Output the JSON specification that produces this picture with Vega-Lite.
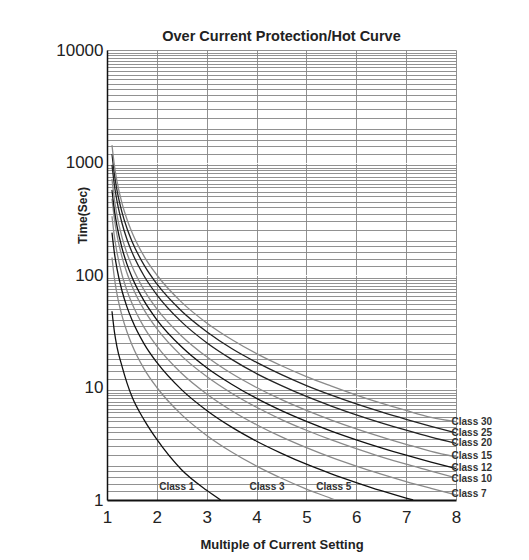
{
  "$schema": "https://vega.github.io/schema/vega-lite/v6.json",
  "width": 349,
  "height": 450,
  "autosize": "none",
  "padding": {"left": 107, "top": 50, "right": 73, "bottom": 60},
  "background": "white",
  "config": {
    "font": "Liberation Sans",
    "view": {"stroke": null}
  },
  "title": {
    "text": "Over Current Protection/Hot Curve",
    "fontSize": 14.5,
    "fontWeight": "bold",
    "color": "#222",
    "offset": -3,
    "anchor": "middle"
  },
  "datasets": {
    "curves": [
      {"c": "Class 1", "x": 1.1, "t": 47.6}, {"c": "Class 1", "x": 1.15, "t": 31}, {"c": "Class 1", "x": 1.2, "t": 23}, {"c": "Class 1", "x": 1.3, "t": 15.5}, {"c": "Class 1", "x": 1.4, "t": 11}, {"c": "Class 1", "x": 1.5, "t": 8.3}, {"c": "Class 1", "x": 1.75, "t": 5.1}, {"c": "Class 1", "x": 2, "t": 3.45}, {"c": "Class 1", "x": 2.5, "t": 1.85}, {"c": "Class 1", "x": 3, "t": 1.22}, {"c": "Class 1", "x": 3.28, "t": 1.0},
      {"c": "Class 3", "x": 1.1, "t": 143}, {"c": "Class 3", "x": 1.15, "t": 93}, {"c": "Class 3", "x": 1.2, "t": 68}, {"c": "Class 3", "x": 1.3, "t": 43.5}, {"c": "Class 3", "x": 1.4, "t": 31.3}, {"c": "Class 3", "x": 1.5, "t": 24}, {"c": "Class 3", "x": 1.75, "t": 14.5}, {"c": "Class 3", "x": 2, "t": 10}, {"c": "Class 3", "x": 2.5, "t": 5.71}, {"c": "Class 3", "x": 3, "t": 3.75}, {"c": "Class 3", "x": 3.5, "t": 2.67}, {"c": "Class 3", "x": 4, "t": 2.0}, {"c": "Class 3", "x": 4.5, "t": 1.56}, {"c": "Class 3", "x": 5, "t": 1.25}, {"c": "Class 3", "x": 5.5, "t": 1.03}, {"c": "Class 3", "x": 5.57, "t": 1.0},
      {"c": "Class 5", "x": 1.1, "t": 238}, {"c": "Class 5", "x": 1.15, "t": 155}, {"c": "Class 5", "x": 1.2, "t": 114}, {"c": "Class 5", "x": 1.3, "t": 72.5}, {"c": "Class 5", "x": 1.4, "t": 52.1}, {"c": "Class 5", "x": 1.5, "t": 40}, {"c": "Class 5", "x": 1.75, "t": 24.2}, {"c": "Class 5", "x": 2, "t": 16.7}, {"c": "Class 5", "x": 2.5, "t": 9.52}, {"c": "Class 5", "x": 3, "t": 6.25}, {"c": "Class 5", "x": 3.5, "t": 4.44}, {"c": "Class 5", "x": 4, "t": 3.33}, {"c": "Class 5", "x": 4.5, "t": 2.6}, {"c": "Class 5", "x": 5, "t": 2.08}, {"c": "Class 5", "x": 5.5, "t": 1.71}, {"c": "Class 5", "x": 6, "t": 1.43}, {"c": "Class 5", "x": 6.5, "t": 1.21}, {"c": "Class 5", "x": 7, "t": 1.04}, {"c": "Class 5", "x": 7.14, "t": 1.0},
      {"c": "Class 7", "x": 1.1, "t": 333}, {"c": "Class 7", "x": 1.15, "t": 217}, {"c": "Class 7", "x": 1.2, "t": 159}, {"c": "Class 7", "x": 1.3, "t": 101}, {"c": "Class 7", "x": 1.4, "t": 72.9}, {"c": "Class 7", "x": 1.5, "t": 56}, {"c": "Class 7", "x": 1.75, "t": 33.9}, {"c": "Class 7", "x": 2, "t": 23.3}, {"c": "Class 7", "x": 2.5, "t": 13.3}, {"c": "Class 7", "x": 3, "t": 8.75}, {"c": "Class 7", "x": 3.5, "t": 6.22}, {"c": "Class 7", "x": 4, "t": 4.67}, {"c": "Class 7", "x": 4.5, "t": 3.64}, {"c": "Class 7", "x": 5, "t": 2.92}, {"c": "Class 7", "x": 5.5, "t": 2.39}, {"c": "Class 7", "x": 6, "t": 2.0}, {"c": "Class 7", "x": 6.5, "t": 1.7}, {"c": "Class 7", "x": 7, "t": 1.46}, {"c": "Class 7", "x": 7.5, "t": 1.27}, {"c": "Class 7", "x": 8, "t": 1.11},
      {"c": "Class 10", "x": 1.1, "t": 476}, {"c": "Class 10", "x": 1.15, "t": 310}, {"c": "Class 10", "x": 1.2, "t": 227}, {"c": "Class 10", "x": 1.3, "t": 145}, {"c": "Class 10", "x": 1.4, "t": 104}, {"c": "Class 10", "x": 1.5, "t": 80}, {"c": "Class 10", "x": 1.75, "t": 48.5}, {"c": "Class 10", "x": 2, "t": 33.3}, {"c": "Class 10", "x": 2.5, "t": 19}, {"c": "Class 10", "x": 3, "t": 12.5}, {"c": "Class 10", "x": 3.5, "t": 8.89}, {"c": "Class 10", "x": 4, "t": 6.67}, {"c": "Class 10", "x": 4.5, "t": 5.19}, {"c": "Class 10", "x": 5, "t": 4.17}, {"c": "Class 10", "x": 5.5, "t": 3.42}, {"c": "Class 10", "x": 6, "t": 2.86}, {"c": "Class 10", "x": 6.5, "t": 2.42}, {"c": "Class 10", "x": 7, "t": 2.08}, {"c": "Class 10", "x": 7.5, "t": 1.81}, {"c": "Class 10", "x": 8, "t": 1.57},
      {"c": "Class 12", "x": 1.1, "t": 571}, {"c": "Class 12", "x": 1.15, "t": 372}, {"c": "Class 12", "x": 1.2, "t": 273}, {"c": "Class 12", "x": 1.3, "t": 174}, {"c": "Class 12", "x": 1.4, "t": 125}, {"c": "Class 12", "x": 1.5, "t": 96}, {"c": "Class 12", "x": 1.75, "t": 58.2}, {"c": "Class 12", "x": 2, "t": 40}, {"c": "Class 12", "x": 2.5, "t": 22.9}, {"c": "Class 12", "x": 3, "t": 15}, {"c": "Class 12", "x": 3.5, "t": 10.7}, {"c": "Class 12", "x": 4, "t": 8.0}, {"c": "Class 12", "x": 4.5, "t": 6.23}, {"c": "Class 12", "x": 5, "t": 5.0}, {"c": "Class 12", "x": 5.5, "t": 4.1}, {"c": "Class 12", "x": 6, "t": 3.43}, {"c": "Class 12", "x": 6.5, "t": 2.91}, {"c": "Class 12", "x": 7, "t": 2.5}, {"c": "Class 12", "x": 7.5, "t": 2.17}, {"c": "Class 12", "x": 8, "t": 1.9},
      {"c": "Class 15", "x": 1.1, "t": 714}, {"c": "Class 15", "x": 1.15, "t": 465}, {"c": "Class 15", "x": 1.2, "t": 341}, {"c": "Class 15", "x": 1.3, "t": 217}, {"c": "Class 15", "x": 1.4, "t": 156}, {"c": "Class 15", "x": 1.5, "t": 120}, {"c": "Class 15", "x": 1.75, "t": 72.7}, {"c": "Class 15", "x": 2, "t": 50}, {"c": "Class 15", "x": 2.5, "t": 28.6}, {"c": "Class 15", "x": 3, "t": 18.75}, {"c": "Class 15", "x": 3.5, "t": 13.3}, {"c": "Class 15", "x": 4, "t": 10}, {"c": "Class 15", "x": 4.5, "t": 7.79}, {"c": "Class 15", "x": 5, "t": 6.25}, {"c": "Class 15", "x": 5.5, "t": 5.13}, {"c": "Class 15", "x": 6, "t": 4.29}, {"c": "Class 15", "x": 6.5, "t": 3.64}, {"c": "Class 15", "x": 7, "t": 3.13}, {"c": "Class 15", "x": 7.5, "t": 2.71}, {"c": "Class 15", "x": 8, "t": 2.42},
      {"c": "Class 20", "x": 1.1, "t": 952}, {"c": "Class 20", "x": 1.15, "t": 620}, {"c": "Class 20", "x": 1.2, "t": 455}, {"c": "Class 20", "x": 1.3, "t": 290}, {"c": "Class 20", "x": 1.4, "t": 208}, {"c": "Class 20", "x": 1.5, "t": 160}, {"c": "Class 20", "x": 1.75, "t": 97}, {"c": "Class 20", "x": 2, "t": 66.7}, {"c": "Class 20", "x": 2.5, "t": 38.1}, {"c": "Class 20", "x": 3, "t": 25}, {"c": "Class 20", "x": 3.5, "t": 17.8}, {"c": "Class 20", "x": 4, "t": 13.3}, {"c": "Class 20", "x": 4.5, "t": 10.4}, {"c": "Class 20", "x": 5, "t": 8.33}, {"c": "Class 20", "x": 5.5, "t": 6.84}, {"c": "Class 20", "x": 6, "t": 5.71}, {"c": "Class 20", "x": 6.5, "t": 4.85}, {"c": "Class 20", "x": 7, "t": 4.17}, {"c": "Class 20", "x": 7.5, "t": 3.62}, {"c": "Class 20", "x": 8, "t": 3.19},
      {"c": "Class 25", "x": 1.1, "t": 1190}, {"c": "Class 25", "x": 1.15, "t": 775}, {"c": "Class 25", "x": 1.2, "t": 568}, {"c": "Class 25", "x": 1.3, "t": 362}, {"c": "Class 25", "x": 1.4, "t": 260}, {"c": "Class 25", "x": 1.5, "t": 200}, {"c": "Class 25", "x": 1.75, "t": 121}, {"c": "Class 25", "x": 2, "t": 83.3}, {"c": "Class 25", "x": 2.5, "t": 47.6}, {"c": "Class 25", "x": 3, "t": 31.3}, {"c": "Class 25", "x": 3.5, "t": 22.2}, {"c": "Class 25", "x": 4, "t": 16.7}, {"c": "Class 25", "x": 4.5, "t": 13}, {"c": "Class 25", "x": 5, "t": 10.4}, {"c": "Class 25", "x": 5.5, "t": 8.55}, {"c": "Class 25", "x": 6, "t": 7.14}, {"c": "Class 25", "x": 6.5, "t": 6.06}, {"c": "Class 25", "x": 7, "t": 5.21}, {"c": "Class 25", "x": 7.5, "t": 4.52}, {"c": "Class 25", "x": 8, "t": 3.95},
      {"c": "Class 30", "x": 1.1, "t": 1429}, {"c": "Class 30", "x": 1.15, "t": 930}, {"c": "Class 30", "x": 1.2, "t": 682}, {"c": "Class 30", "x": 1.3, "t": 435}, {"c": "Class 30", "x": 1.4, "t": 313}, {"c": "Class 30", "x": 1.5, "t": 240}, {"c": "Class 30", "x": 1.75, "t": 145}, {"c": "Class 30", "x": 2, "t": 100}, {"c": "Class 30", "x": 2.5, "t": 57.1}, {"c": "Class 30", "x": 3, "t": 37.5}, {"c": "Class 30", "x": 3.5, "t": 26.7}, {"c": "Class 30", "x": 4, "t": 20}, {"c": "Class 30", "x": 4.5, "t": 15.6}, {"c": "Class 30", "x": 5, "t": 12.5}, {"c": "Class 30", "x": 5.5, "t": 10.3}, {"c": "Class 30", "x": 6, "t": 8.57}, {"c": "Class 30", "x": 6.5, "t": 7.27}, {"c": "Class 30", "x": 7, "t": 6.25}, {"c": "Class 30", "x": 7.5, "t": 5.43}, {"c": "Class 30", "x": 8, "t": 4.97}
    ],
    "rlabels": [
      {"label": "Class 30", "x": 7.91, "t": 4.97},
      {"label": "Class 25", "x": 7.91, "t": 3.92},
      {"label": "Class 20", "x": 7.91, "t": 3.19},
      {"label": "Class 15", "x": 7.91, "t": 2.46},
      {"label": "Class 12", "x": 7.91, "t": 1.91},
      {"label": "Class 10", "x": 7.91, "t": 1.54},
      {"label": "Class 7", "x": 7.91, "t": 1.13}
    ],
    "blabels": [
      {"label": "Class 1", "x": 2.4, "t": 1.3},
      {"label": "Class 3", "x": 4.21, "t": 1.3},
      {"label": "Class 5", "x": 5.55, "t": 1.3}
    ]
  },
  "encoding": {
    "x": {
      "field": "x",
      "type": "quantitative",
      "scale": {"domain": [1, 8], "nice": false, "zero": false},
      "axis": {
        "title": "Multiple of Current Setting",
        "titleFont": "Liberation Sans",
        "titleFontSize": 13,
        "titleFontWeight": "bold",
        "titleColor": "#222",
        "titlePadding": 13,
        "values": [1,1.0625,1.125,1.1875,1.25,1.3125,1.375,1.4375,1.5,1.5625,1.625,1.6875,1.75,1.8125,1.875,1.9375,
                   2,2.0625,2.125,2.1875,2.25,2.3125,2.375,2.4375,2.5,2.5625,2.625,2.6875,2.75,2.8125,2.875,2.9375,
                   3,3.0625,3.125,3.1875,3.25,3.3125,3.375,3.4375,3.5,3.5625,3.625,3.6875,3.75,3.8125,3.875,3.9375,
                   4,4.0625,4.125,4.1875,4.25,4.3125,4.375,4.4375,4.5,4.5625,4.625,4.6875,4.75,4.8125,4.875,4.9375,
                   5,5.0625,5.125,5.1875,5.25,5.3125,5.375,5.4375,5.5,5.5625,5.625,5.6875,5.75,5.8125,5.875,5.9375,
                   6,6.0625,6.125,6.1875,6.25,6.3125,6.375,6.4375,6.5,6.5625,6.625,6.6875,6.75,6.8125,6.875,6.9375,
                   7,7.0625,7.125,7.1875,7.25,7.3125,7.375,7.4375,7.5,7.5625,7.625,7.6875,7.75,7.8125,7.875,7.9375,8],
        "format": "d",
        "labelExpr": "datum.value % 1 === 0 ? datum.label : ''",
        "labelOverlap": false,
        "labelFlush": false,
        "labelFontSize": 17,
        "labelColor": "#222",
        "labelPadding": 9,
        "ticks": false,
        "domainColor": "#111",
        "domainWidth": 2,
        "grid": true,
        "gridColor": "#858585",
        "gridOpacity": 1,
        "gridWidth": 0.9
      }
    },
    "y": {
      "field": "t",
      "type": "quantitative",
      "scale": {"type": "log", "domain": [1, 10000], "nice": false},
      "axis": {
        "title": "Time(Sec)",
        "titleFont": "Liberation Sans",
        "titleFontSize": 12,
        "titleFontWeight": "bold",
        "titleColor": "#222",
        "titleX": -25,
        "titleY": 165,
        "titleBaseline": "middle",
        "titleAlign": "center",
        "values": [1,1.2,1.4,1.6,1.8,2,2.5,3,3.5,4,4.5,5,5.5,6,6.5,7,7.5,8,8.5,9,9.5,
                   10,12,14,16,18,20,25,30,35,40,45,50,55,60,65,70,75,80,85,90,95,
                   100,120,140,160,180,200,250,300,350,400,450,500,550,600,650,700,750,800,850,900,950,
                   1000,1200,1400,1600,1800,2000,2500,3000,3500,4000,4500,5000,5500,6000,6500,7000,7500,8000,8500,9000,9500,10000],
        "format": "d",
        "labelExpr": "(datum.value == 1 || datum.value == 10 || datum.value == 100 || datum.value == 1000 || datum.value == 10000) ? datum.label : ''",
        "labelOverlap": false,
        "labelFlush": false,
        "labelFontSize": 17,
        "labelColor": "#222",
        "labelPadding": 4,
        "ticks": false,
        "domainColor": "#111",
        "domainWidth": 1.5,
        "grid": true,
        "gridColor": {"condition": {"test": "datum.value == 1 || datum.value == 10 || datum.value == 100 || datum.value == 1000", "value": "#ffffff"}, "value": "#858585"},
        "gridWidth": 0.9
      }
    }
  },
  "layer": [
    {
      "data": {"name": "curves"},
      "mark": {"type": "line", "interpolate": "monotone", "strokeWidth": 1.3, "clip": true},
      "encoding": {
        "color": {
          "field": "c",
          "type": "nominal",
          "legend": null,
          "scale": {
            "domain": ["Class 1", "Class 3", "Class 5", "Class 7", "Class 10", "Class 12", "Class 15", "Class 20", "Class 25", "Class 30"],
            "range": ["#111111", "#8a8a8a", "#111111", "#8a8a8a", "#8a8a8a", "#111111", "#8a8a8a", "#222222", "#222222", "#8a8a8a"]
          }
        }
      }
    },
    {
      "data": {"name": "rlabels"},
      "mark": {"type": "text", "align": "left", "baseline": "middle", "fontSize": 10, "fontWeight": "bold", "color": "#333"},
      "encoding": {
        "text": {"field": "label"}
      }
    },
    {
      "data": {"name": "blabels"},
      "mark": {"type": "text", "align": "center", "baseline": "middle", "fontSize": 10, "fontWeight": "bold", "color": "#333"},
      "encoding": {
        "text": {"field": "label"}
      }
    }
  ]
}
